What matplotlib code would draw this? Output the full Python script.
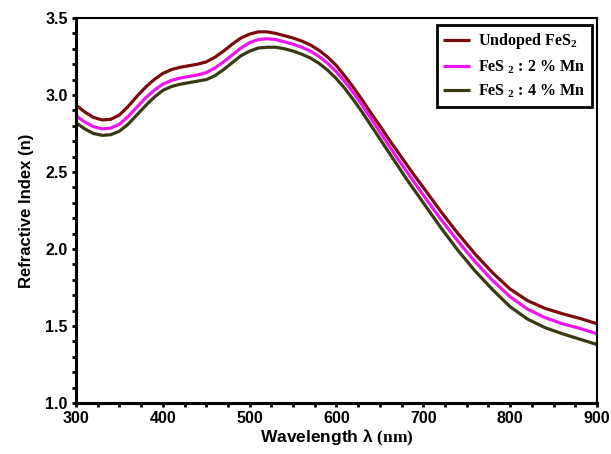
import matplotlib
matplotlib.use("Agg")
import matplotlib.pyplot as plt
from matplotlib.ticker import MultipleLocator

plt.rcParams['font.family'] = ['Liberation Sans', 'DejaVu Sans']
plt.rcParams['mathtext.fontset'] = 'custom'
plt.rcParams['mathtext.rm'] = 'Liberation Serif:bold'
plt.rcParams['mathtext.bf'] = 'Liberation Serif:bold'
plt.rcParams['mathtext.it'] = 'Liberation Serif:bold'

# wavelength grid (nm)
wavelength = [300, 310, 320, 330, 340, 350, 360, 370, 380, 390,
              400, 410, 420, 430, 440, 450, 460, 470, 480, 490,
              500, 510, 520, 530, 540, 550, 560, 570, 580, 590,
              600, 610, 620, 630, 640, 650, 660, 670, 680, 690,
              700, 720, 740, 760, 780, 800, 820, 840, 860, 880, 900]

# refractive index n for each film
n_undoped = [2.935, 2.89, 2.855, 2.838, 2.842, 2.87, 2.925, 2.99, 3.05, 3.10,
             3.14, 3.165, 3.18, 3.19, 3.20, 3.215, 3.245, 3.285, 3.33, 3.37,
             3.395, 3.41, 3.41, 3.40, 3.385, 3.37, 3.35, 3.325, 3.29, 3.245,
             3.19, 3.12, 3.045, 2.965, 2.88, 2.80, 2.715, 2.635, 2.555, 2.475,
             2.40, 2.245, 2.10, 1.965, 1.845, 1.74, 1.665, 1.615, 1.58, 1.55, 1.515]

n_mn2 = [2.865, 2.825, 2.795, 2.78, 2.785, 2.81, 2.86, 2.92, 2.98, 3.03,
         3.07, 3.095, 3.11, 3.12, 3.13, 3.145, 3.175, 3.215, 3.26, 3.305,
         3.34, 3.36, 3.365, 3.36, 3.345, 3.33, 3.31, 3.285, 3.25, 3.205,
         3.15, 3.085, 3.01, 2.93, 2.845, 2.76, 2.675, 2.59, 2.51, 2.43,
         2.35, 2.195, 2.05, 1.915, 1.795, 1.69, 1.61, 1.555, 1.515, 1.485, 1.45]

n_mn4 = [2.82, 2.78, 2.75, 2.738, 2.742, 2.765, 2.81, 2.87, 2.93, 2.985,
         3.03, 3.055, 3.07, 3.08, 3.09, 3.10, 3.125, 3.165, 3.21, 3.255,
         3.285, 3.305, 3.31, 3.31, 3.30, 3.285, 3.265, 3.24, 3.205, 3.16,
         3.105, 3.04, 2.965, 2.885, 2.80, 2.715, 2.63, 2.545, 2.46, 2.38,
         2.30, 2.14, 1.99, 1.855, 1.735, 1.625, 1.545, 1.49, 1.45, 1.415, 1.38]

labels = ['Undoped FeS$_2$', 'FeS $_2$ : 2 % Mn', 'FeS $_2$ : 4 % Mn']
colors = ['#7a0c0c', '#f014f0', '#3a3a12']

fig = plt.figure(figsize=(6.11, 4.54), dpi=100)
ax = fig.add_axes([0.1244, 0.1123, 0.8526, 0.8481])

for ys, lab, c in zip([n_undoped, n_mn2, n_mn4], labels, colors):
    ax.plot(wavelength, ys, color=c, lw=2.3, label=lab, solid_capstyle='butt')

ax.set_xlim(300, 900)
ax.set_ylim(1.0, 3.5)
ax.xaxis.set_major_locator(MultipleLocator(100))
ax.xaxis.set_minor_locator(MultipleLocator(25))
ax.yaxis.set_major_locator(MultipleLocator(0.5))
ax.yaxis.set_minor_locator(MultipleLocator(0.1))
ax.yaxis.set_major_formatter(plt.FormatStrFormatter('%.1f'))

ax.spines['left'].set_linewidth(2.2)
ax.spines['bottom'].set_linewidth(2.2)
ax.spines['top'].set_linewidth(1.5)
ax.spines['right'].set_linewidth(1.5)

ax.tick_params(which='both', direction='out', width=2, length=3, top=False, right=False)
ax.tick_params(which='major', labelsize=11.5, pad=3)
for t in ax.get_xticklabels() + ax.get_yticklabels():
    t.set_fontweight('bold')

ax.set_ylabel('Refractive Index (n)', fontsize=12, fontweight='bold', labelpad=8)
ax.set_xlabel(r'Wavelength λ $\mathbf{(nm)}$', fontsize=12.5, fontweight='bold', labelpad=1)

leg = ax.legend(loc='upper right', bbox_to_anchor=(0.99, 0.982), borderaxespad=0,
                fancybox=False, edgecolor='black', handlelength=1.7, handletextpad=0.5,
                borderpad=0.4, labelspacing=0.45,
                prop={'family': 'Liberation Serif', 'weight': 'bold', 'size': 11.5})
leg.get_frame().set_linewidth(2.0)
leg.get_frame().set_alpha(1)
for line in leg.get_lines():
    line.set_linewidth(2.3)

fig.savefig('out.png', dpi=100)
